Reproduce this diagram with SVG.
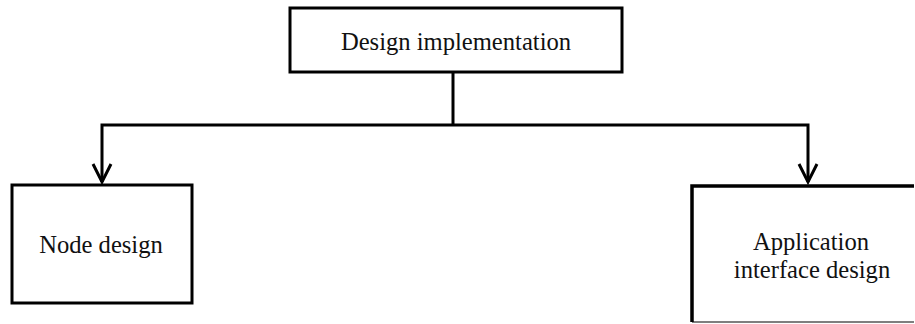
<svg xmlns="http://www.w3.org/2000/svg" width="915" height="324" viewBox="0 0 915 324">
<style>
.box{fill:#fff;stroke:#000;stroke-width:3}
.lbl{font-family:"Liberation Serif","Times New Roman",serif;font-size:24.6px;fill:#111;text-anchor:middle}
.conn{fill:none;stroke:#000;stroke-width:3}
</style>
<rect width="915" height="324" fill="#fff"/>
<g id="node-top">
<rect class="box" x="290" y="8" width="332" height="64"/>
<text class="lbl" x="456" y="50">Design implementation</text>
</g>
<g id="node-left">
<rect class="box" x="12" y="185" width="180" height="118"/>
<text class="lbl" x="101" y="253">Node design</text>
</g>
<g id="node-right">
<path d="M914,186 H692 V322" fill="none" stroke="#000" stroke-width="3.5"/>
<path d="M692,322 H914" fill="none" stroke="#000" stroke-width="1.2"/>
<text class="lbl" x="811" y="250">Application</text>
<text class="lbl" x="812" y="278">interface design</text>
</g>
<g id="connectors">
<path class="conn" d="M453,72 V125"/>
<path class="conn" d="M102,182 V125 H808 V182"/>
<path class="conn" d="M93,164 L102,182 L111,164"/>
<path class="conn" d="M799,164 L808,182 L817,164"/>
</g>
</svg>
